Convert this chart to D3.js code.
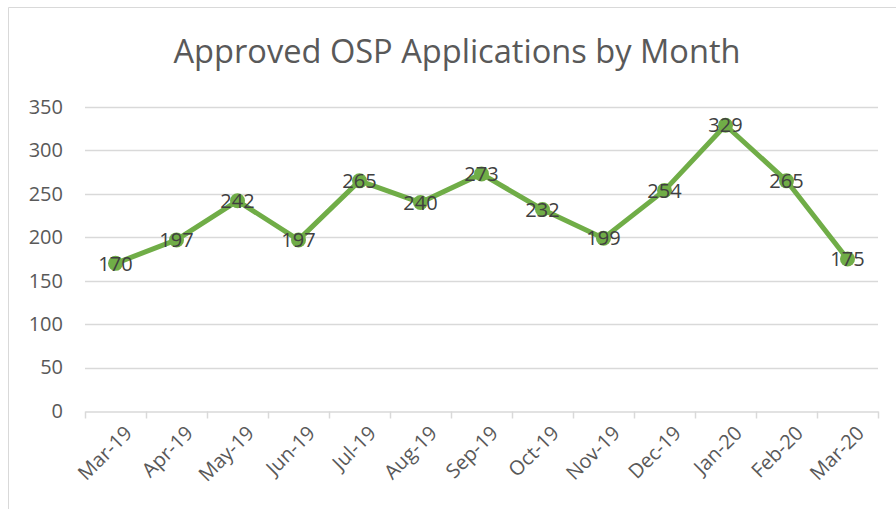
<!DOCTYPE html>
<html>
<head>
<meta charset="utf-8">
<script src="https://cdn.jsdelivr.net/npm/d3@7"></script>
<style>
  body { margin: 0; background: #fff; }
  text { font-family: "Open Sans", sans-serif; }
</style>
</head>
<body>
<div id="chart"></div>
<script>
// data
var months = ["Mar-19", "Apr-19", "May-19", "Jun-19", "Jul-19", "Aug-19", "Sep-19",
              "Oct-19", "Nov-19", "Dec-19", "Jan-20", "Feb-20", "Mar-20"];
var approved = [170, 197, 242, 197, 265, 240, 273, 232, 199, 254, 329, 265, 175];
var yTicks = [0, 50, 100, 150, 200, 250, 300, 350];

var W = 896, H = 509;
var margin = {top: 107, right: 18, bottom: 98, left: 85},
    width = W - margin.left - margin.right,
    height = H - margin.top - margin.bottom;

var svg = d3.select("#chart")
  .append("svg")
    .attr("width", W)
    .attr("height", H);

// outer chart border (only left and top are in view)
svg.append("path")
  .attr("d", "M8.5," + H + "V7.5H" + W)
  .attr("fill", "none")
  .attr("stroke", "#d9d9d9")
  .attr("stroke-width", 1);

// title
var title = svg.append("text")
  .attr("x", 457)
  .attr("y", 63)
  .attr("text-anchor", "middle")
  .attr("fill", "#595959")
  .style("font-size", "32px")
  .text("Approved OSP Applications by Month");
title.attr("textLength", 567).attr("lengthAdjust", "spacingAndGlyphs");

var g = svg.append("g")
  .attr("transform", "translate(" + margin.left + "," + margin.top + ")");

var x = d3.scaleBand()
  .domain(months)
  .range([0, width]);

var y = d3.scaleLinear()
  .domain([0, 350])
  .range([height, 0]);

// gridlines
g.selectAll(".grid")
  .data(yTicks.filter(function(d) { return d > 0; }))
  .enter()
  .append("line")
    .attr("x1", 0)
    .attr("x2", width)
    .attr("y1", function(d) { return Math.round(y(d)) + 0.5; })
    .attr("y2", function(d) { return Math.round(y(d)) + 0.5; })
    .attr("stroke", "#d9d9d9")
    .attr("stroke-width", 1.5);

// y axis labels
var yAxis = g.append("g")
  .call(d3.axisLeft(y).tickValues(yTicks).tickSize(0).tickPadding(22));
yAxis.select(".domain").remove();
yAxis.selectAll("text")
  .attr("fill", "#595959")
  .style("font-size", "20px");

// x axis with tick marks at band edges
var xAxis = g.append("g")
  .attr("transform", "translate(0," + (Math.round(height) + 0.5) + ")")
  .call(d3.axisBottom(x).tickSize(0).tickFormat(""));
xAxis.select(".domain")
  .attr("stroke", "#d9d9d9")
  .attr("stroke-width", 1.5);

var edges = months.map(function(m) { return x(m); }).concat([width]);
xAxis.selectAll(".edge")
  .data(edges)
  .enter()
  .append("line")
    .attr("x1", function(d) { return Math.round(d) + 0.5; })
    .attr("x2", function(d) { return Math.round(d) + 0.5; })
    .attr("y1", 0)
    .attr("y2", 7)
    .attr("stroke", "#d9d9d9")
    .attr("stroke-width", 1.5);

xAxis.selectAll(".mlabel")
  .data(months)
  .enter()
  .append("text")
    .attr("transform", function(d) {
      return "translate(" + (x(d) + x.bandwidth() / 2 + 8) + ",13)rotate(-45)";
    })
    .attr("text-anchor", "end")
    .attr("dy", "0.7em")
    .attr("fill", "#595959")
    .style("font-size", "20px")
    .text(function(d) { return d; });

// line
var line = d3.line()
  .x(function(d, i) { return x(months[i]) + x.bandwidth() / 2; })
  .y(function(d) { return y(d); });

g.append("path")
  .datum(approved)
  .attr("d", line)
  .attr("fill", "none")
  .attr("stroke", "#70ad47")
  .attr("stroke-width", 5)
  .attr("stroke-linejoin", "round");

// markers
g.selectAll(".dot")
  .data(approved)
  .enter()
  .append("circle")
    .attr("cx", function(d, i) { return x(months[i]) + x.bandwidth() / 2; })
    .attr("cy", function(d) { return y(d); })
    .attr("r", 7.5)
    .attr("fill", "#70ad47");

// data labels
g.selectAll(".vlabel")
  .data(approved)
  .enter()
  .append("text")
    .attr("x", function(d, i) { return x(months[i]) + x.bandwidth() / 2; })
    .attr("y", function(d) { return y(d); })
    .attr("dy", "0.36em")
    .attr("text-anchor", "middle")
    .attr("fill", "#404040")
    .style("font-size", "20px")
    .text(function(d) { return d; });
</script>
</body>
</html>
